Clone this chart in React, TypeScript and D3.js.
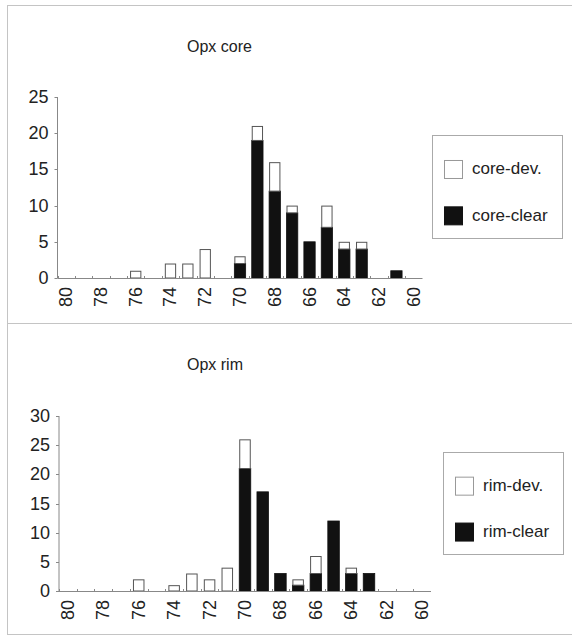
import { useEffect, useRef } from "react";
import * as d3 from "d3";

// categories (Mg# bins, descending)
const bins = [80, 79, 78, 77, 76, 75, 74, 73, 72, 71, 70, 69, 68, 67, 66, 65, 64, 63, 62, 61, 60];
const binLabels = [80, 78, 76, 74, 72, 70, 68, 66, 64, 62, 60];

// Opx core
const coreClear = [0, 0, 0, 0, 0, 0, 0, 0, 0, 0, 2, 19, 12, 9, 5, 7, 4, 4, 0, 1, 0];
const coreDev = [0, 0, 0, 0, 1, 0, 2, 2, 4, 0, 1, 2, 4, 1, 0, 3, 1, 1, 0, 0, 0];
const coreTicks = [0, 5, 10, 15, 20, 25];

// Opx rim
const rimClear = [0, 0, 0, 0, 0, 0, 0, 0, 0, 0, 21, 17, 3, 1, 3, 12, 3, 3, 0, 0, 0];
const rimDev = [0, 0, 0, 0, 2, 0, 1, 3, 2, 4, 5, 0, 0, 1, 3, 0, 1, 0, 0, 0, 0];
const rimTicks = [0, 5, 10, 15, 20, 25, 30];

const FONT = "'Liberation Sans', Arial, sans-serif";
const TEXT = "#222";
const AXIS = "#888";
const FRAME = "#c4c4c4";

type Panel = {
  title: string;
  titleX: number;
  titleY: number;
  clear: number[];
  dev: number[];
  ticks: number[];
  x0: number;
  x1: number;
  y0: number; // bottom (value 0)
  y1: number; // top (max tick)
  legend: { x: number; y: number; w: number; h: number; dev: string; clear: string };
};

const panels: Panel[] = [
  {
    title: "Opx core",
    titleX: 187,
    titleY: 52,
    clear: coreClear,
    dev: coreDev,
    ticks: coreTicks,
    x0: 57.5,
    x1: 422.5,
    y0: 278,
    y1: 97,
    legend: { x: 432, y: 135, w: 130, h: 103, dev: "core-dev.", clear: "core-clear" },
  },
  {
    title: "Opx rim",
    titleX: 187,
    titleY: 370,
    clear: rimClear,
    dev: rimDev,
    ticks: rimTicks,
    x0: 59,
    x1: 431,
    y0: 591,
    y1: 416,
    legend: { x: 443, y: 452, w: 120, h: 102, dev: "rim-dev.", clear: "rim-clear" },
  },
];

export default function App() {
  const ref = useRef<SVGSVGElement>(null);

  useEffect(() => {
    document.body.style.margin = "0";
    const svg = d3.select(ref.current);
    svg.selectAll("*").remove();

    // outer frame + divider
    const frame = svg.append("g").attr("stroke", FRAME).attr("stroke-width", 1);
    frame.append("line").attr("x1", 7).attr("x2", 572).attr("y1", 5.5).attr("y2", 5.5);
    frame.append("line").attr("x1", 7.5).attr("x2", 7.5).attr("y1", 5).attr("y2", 634);
    frame.append("line").attr("x1", 7).attr("x2", 572).attr("y1", 323.5).attr("y2", 323.5);
    frame.append("line").attr("x1", 7).attr("x2", 572).attr("y1", 634.5).attr("y2", 634.5);

    panels.forEach((p) => {
      const g = svg.append("g");
      const x = d3
        .scaleBand<number>()
        .domain(bins)
        .range([p.x0, p.x1])
        .paddingInner(0.35)
        .paddingOuter(0.175);
      const y = d3
        .scaleLinear()
        .domain([0, d3.max(p.ticks) as number])
        .range([p.y0, p.y1]);

      // title
      g.append("text")
        .attr("x", p.titleX)
        .attr("y", p.titleY)
        .attr("font-family", FONT)
        .attr("font-size", 16)
        .attr("fill", TEXT)
        .text(p.title);

      // bars: clear (black) then dev (white) stacked on top
      const rows = bins.map((b, i) => ({ b, clear: p.clear[i], dev: p.dev[i] }));
      g.selectAll("rect.clear")
        .data(rows.filter((d) => d.clear > 0))
        .join("rect")
        .attr("class", "clear")
        .attr("x", (d) => x(d.b) as number)
        .attr("width", x.bandwidth())
        .attr("y", (d) => y(d.clear))
        .attr("height", (d) => y(0) - y(d.clear))
        .attr("fill", "#111")
        .attr("stroke", "#111")
        .attr("stroke-width", 0.8);
      g.selectAll("rect.dev")
        .data(rows.filter((d) => d.dev > 0))
        .join("rect")
        .attr("class", "dev")
        .attr("x", (d) => (x(d.b) as number) + 0.5)
        .attr("width", x.bandwidth() - 1)
        .attr("y", (d) => y(d.clear + d.dev) + 0.5)
        .attr("height", (d) => y(d.clear) - y(d.clear + d.dev) - 0.5)
        .attr("fill", "#fff")
        .attr("stroke", "#555")
        .attr("stroke-width", 1);

      // y axis
      const ya = g.append("g").attr("stroke", AXIS);
      ya.append("line")
        .attr("x1", p.x0)
        .attr("x2", p.x0)
        .attr("y1", y.range()[1])
        .attr("y2", y(0));
      p.ticks.forEach((t) => {
        ya.append("line")
          .attr("x1", p.x0 - 3)
          .attr("x2", p.x0)
          .attr("y1", Math.round(y(t)) + 0.5)
          .attr("y2", Math.round(y(t)) + 0.5);
      });
      g.selectAll("text.ytick")
        .data(p.ticks)
        .join("text")
        .attr("class", "ytick")
        .attr("x", p.x0 - 9)
        .attr("y", (d) => y(d))
        .attr("text-anchor", "end")
        .attr("dominant-baseline", "central")
        .attr("font-family", FONT)
        .attr("font-size", 18)
        .attr("fill", TEXT)
        .text((d) => d);

      // x axis
      const xa = g.append("g").attr("stroke", AXIS);
      xa.append("line")
        .attr("x1", p.x0)
        .attr("x2", p.x1)
        .attr("y1", y(0) + 0.5)
        .attr("y2", y(0) + 0.5);
      bins.forEach((b) => {
        const xx = Math.round((x(b) as number) - x.step() * 0.175) + 0.5;
        xa.append("line")
          .attr("x1", xx)
          .attr("x2", xx)
          .attr("y1", y(0) - 2)
          .attr("y2", y(0) + 1);
      });
      g.selectAll("text.xtick")
        .data(binLabels)
        .join("text")
        .attr("class", "xtick")
        .attr(
          "transform",
          (d) => `translate(${(x(d) as number) + x.bandwidth() / 2},${y(0) + 9}) rotate(-90)`
        )
        .attr("text-anchor", "end")
        .attr("dominant-baseline", "central")
        .attr("font-family", FONT)
        .attr("font-size", 18)
        .attr("fill", TEXT)
        .text((d) => d);

      // legend
      const L = p.legend;
      const lg = g.append("g");
      lg.append("rect")
        .attr("x", L.x + 0.5)
        .attr("y", L.y + 0.5)
        .attr("width", L.w)
        .attr("height", L.h)
        .attr("fill", "#fff")
        .attr("stroke", "#aaa");
      const items = [
        { label: L.dev, fill: "#fff" },
        { label: L.clear, fill: "#111" },
      ];
      items.forEach((it, i) => {
        const cy = L.y + L.h * (0.33 + i * 0.45);
        lg.append("rect")
          .attr("x", L.x + 12.5)
          .attr("y", cy - 8.5)
          .attr("width", 18)
          .attr("height", 18)
          .attr("fill", it.fill)
          .attr("stroke", i === 0 ? "#999" : "#111");
        lg.append("text")
          .attr("x", L.x + 40)
          .attr("y", cy)
          .attr("dominant-baseline", "central")
          .attr("font-family", FONT)
          .attr("font-size", 17)
          .attr("fill", TEXT)
          .text(it.label);
      });
    });
  }, []);

  return (
    <svg
      ref={ref}
      width={572}
      height={637}
      style={{ display: "block", background: "#fff" }}
    />
  );
}
